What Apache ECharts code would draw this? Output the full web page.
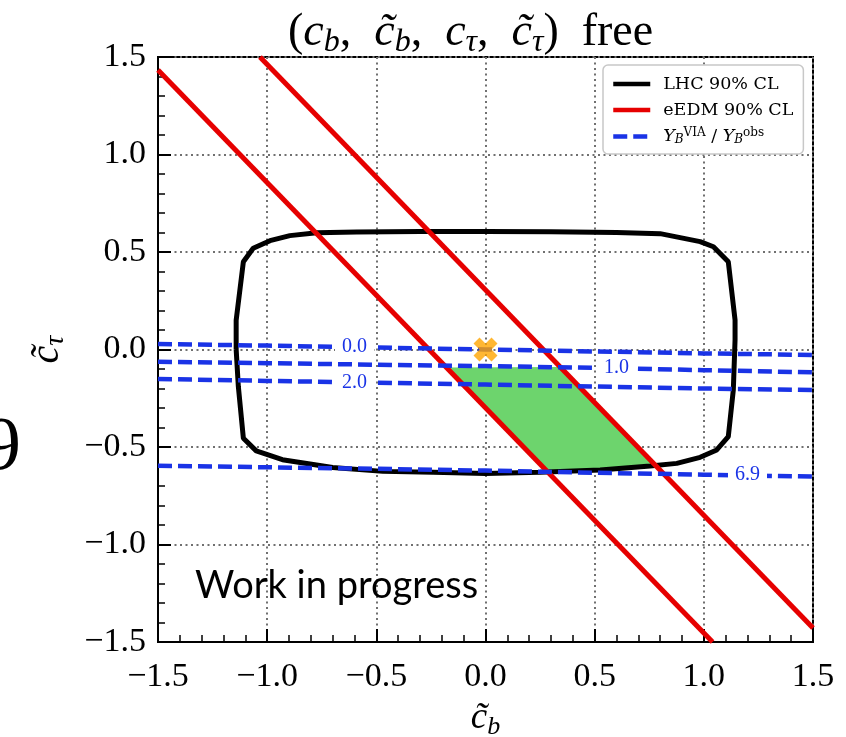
<!DOCTYPE html>
<html>
<head>
<meta charset="utf-8">
<script src="https://cdn.jsdelivr.net/npm/echarts@6/dist/echarts.min.js"></script>
<style>html,body{margin:0;padding:0;background:#fff}#c{width:846px;height:737px}</style>
</head>
<body>
<div id="c"></div>
<script>
// ---------- data ----------
const axisMin = -1.5, axisMax = 1.5, axisStep = 0.5;

// LHC 90% CL contour (closed)
const lhcX = [-1.142,-1.142,-1.109,-1.064,-0.987,-0.896,-0.773,-0.59,-0.3,0,0.3,0.6,0.8,0.983,1.044,1.112,1.143,1.143,1.135,1.112,1.059,0.983,0.876,0.754,0.525,0.25,0,-0.24,-0.47,-0.70,-0.93,-1.05,-1.109,-1.132,-1.142];
const lhcY = [0.0,0.15,0.45,0.519,0.558,0.584,0.599,0.603,0.605,0.605,0.604,0.6,0.594,0.553,0.527,0.45,0.151,0.049,-0.208,-0.447,-0.515,-0.553,-0.584,-0.597,-0.618,-0.63,-0.636,-0.63,-0.625,-0.605,-0.565,-0.52,-0.455,-0.19,0.0];

// eEDM 90% CL boundaries (straight bands)
const edm1X = [-1.5, 1.04];
const edm1Y = [1.433, -1.5];
const edm2X = [-1.033, 1.5];
const edm2Y = [1.5, -1.428];

// Y_B^VIA / Y_B^obs contours
const contourX = [-1.5,-1.0,-0.5,0,0.5,1.0,1.5];
const c00 = [0.028,0.02,0.01,0.0,-0.01,-0.02,-0.028];
const c10 = [-0.063,-0.07,-0.078,-0.085,-0.094,-0.106,-0.117];
const c20 = [-0.151,-0.161,-0.17,-0.18,-0.19,-0.2,-0.208];
const c69 = [-0.596,-0.604,-0.612,-0.621,-0.632,-0.642,-0.652];
const contourLabels = ['0.0','1.0','2.0','6.9'];
const labelX = [-0.6, 0.6, -0.6, 1.2];
const labelY = [0.012, -0.096, -0.172, -0.64];

// allowed region (green)
const greenX = [-0.18, 0.344, 0.78, 0.525, 0.285];
const greenY = [-0.092, -0.09, -0.595, -0.618, -0.629];

// SM point
const smPoint = [[0, 0]];

// ---------- helpers ----------
const zip = (xs, ys) => xs.map((x, i) => [x, ys[i]]);
const fmt = v => (v < 0 ? '\u2212' : '') + Math.abs(v).toFixed(1);
const SERIF = "'Liberation Serif', 'DejaVu Serif', serif";
const LSERIF = "'DejaVu Serif', serif";
const BLUE = '#1a33e6', RED = '#e60000', GREEN = '#6dd46d';

const mathRich = (fs) => ({
  n: {fontFamily: SERIF, fontSize: fs, fontWeight: 'normal', color: '#000'},
  i: {fontFamily: SERIF, fontSize: fs, fontWeight: 'normal', fontStyle: 'italic', color: '#000'},
  s: {fontFamily: SERIF, fontSize: Math.round(fs*0.7), fontWeight: 'normal', fontStyle: 'italic', color: '#000', verticalAlign: 'bottom', padding: [Math.round(fs*0.45),0,0,0]}
});

const blueSeries = (data) => ({
  type: 'line', name: 'YB', data: data, symbol: 'none', z: 4,
  lineStyle: {color: BLUE, width: 4.5, type: [14, 6]}, itemStyle: {color: BLUE}
});

const chart = echarts.init(document.getElementById('c'), null, {renderer: 'canvas'});

const axisCommon = {
  type: 'value', min: axisMin, max: axisMax, interval: axisStep,
  axisLine: {show: true, onZero: false, lineStyle: {color: '#000', width: 2}},
  axisTick: {show: true, inside: true, length: 13, lineStyle: {color: '#000', width: 2}},
  minorTick: {show: true, splitNumber: 5, length: 7, lineStyle: {color: '#000', width: 1.5}},
  splitLine: {show: true, lineStyle: {color: '#707070', width: 2, type: [2, 3.5]}},
  axisLabel: {formatter: fmt, fontFamily: SERIF, fontSize: 34, color: '#000', showMinLabel: true, showMaxLabel: true}
};

const option = {
  animation: false,
  backgroundColor: '#fff',
  grid: {left: 158, top: 57, right: 33, bottom: 95, containLabel: false, outerBoundsMode: 'none', show: true, borderColor: '#000', borderWidth: 2, backgroundColor: 'transparent'},
  title: {
    text: '{n|(}{i|c}{s|b}{n|,  }{i|c\u0303}{s|b}{n|,  }{i|c}{s|\u03c4}{n|,  }{i|c\u0303}{s|\u03c4}{n|)  free}',
    left: 283, top: 1,
    textStyle: {fontWeight: 'normal', rich: mathRich(46)}
  },
  legend: {
    orient: 'vertical', left: 603, top: 65,
    padding: [10, 10, 8, 8], itemGap: 8,
    itemWidth: 37, itemHeight: 18,
    backgroundColor: '#fff', borderColor: '#c8c8c8', borderWidth: 1.5, borderRadius: 5,
    itemStyle: {opacity: 0, borderWidth: 0},
    lineStyle: {width: 4.5},
    data: ['LHC 90% CL', 'eEDM 90% CL', 'YB'],
    formatter: function (name) {
      if (name === 'YB') return '{i|Y}{s|B}{p|VIA}{n| / }{i|Y}{s|B}{p|obs}';
      return '{n|' + name + '}';
    },
    textStyle: {
      padding: [0, 0, 0, 8],
      rich: {
        n: {fontFamily: LSERIF, fontSize: 17.5, color: '#000', lineHeight: 19},
        i: {fontFamily: LSERIF, fontSize: 17.5, fontStyle: 'italic', color: '#000', lineHeight: 19},
        s: {fontFamily: LSERIF, fontSize: 12, fontStyle: 'italic', color: '#000', verticalAlign: 'bottom', lineHeight: 12, padding: [7,0,0,0]},
        p: {fontFamily: LSERIF, fontSize: 12, color: '#000', verticalAlign: 'top', lineHeight: 12, padding: [0,0,7,0]}
      }
    }
  },
  xAxis: Object.assign({}, axisCommon, {
    position: 'bottom',
    name: '{i|c\u0303}{s|b}', nameLocation: 'middle', nameGap: 55,
    nameTextStyle: {rich: mathRich(37)},
    axisLabel: Object.assign({}, axisCommon.axisLabel, {margin: 18})
  }),
  yAxis: Object.assign({}, axisCommon, {
    position: 'left',
    name: '{i|c\u0303}{s|\u03c4}', nameLocation: 'middle', nameGap: 88, nameRotate: 90,
    nameTextStyle: {rich: mathRich(40)},
    axisLabel: Object.assign({}, axisCommon.axisLabel, {margin: 12})
  }),
  graphic: [
    {type: 'text', x: -17, y: 411, z: 10, style: {text: '9', font: "76px 'Liberation Serif'", fill: '#000'}},
    {type: 'text', x: 195, y: 567, z: 10, style: {text: 'Work in progress', font: "38px Lato, 'Open Sans', sans-serif", fill: '#000'}}
  ],
  series: [
    {
      type: 'custom', name: 'allowed', z: 1, clip: true,
      data: zip(greenX, greenY),
      renderItem: function (params, api) {
        if (params.dataIndex !== 0) return null;
        const pts = greenX.map((x, i) => api.coord([x, greenY[i]]));
        return {type: 'polygon', shape: {points: pts}, style: {fill: GREEN}};
      }
    },
    {
      type: 'line', name: 'LHC 90% CL', data: zip(lhcX, lhcY), symbol: 'none', z: 2,
      lineStyle: {color: '#000', width: 5}, itemStyle: {color: '#000'}
    },
    {
      type: 'line', name: 'eEDM 90% CL', data: zip(edm1X, edm1Y), symbol: 'none', z: 3,
      lineStyle: {color: RED, width: 5}, itemStyle: {color: RED}
    },
    {
      type: 'line', name: 'eEDM 90% CL', data: zip(edm2X, edm2Y), symbol: 'none', z: 3,
      lineStyle: {color: RED, width: 5}, itemStyle: {color: RED}
    },
    blueSeries(zip(contourX, c00)),
    blueSeries(zip(contourX, c10)),
    blueSeries(zip(contourX, c20)),
    blueSeries(zip(contourX, c69)),
    {
      type: 'scatter', name: 'labels', z: 5, symbolSize: 0, silent: true,
      data: labelX.map((x, i) => ({value: [x, labelY[i]], label: {formatter: contourLabels[i]}})),
      label: {show: true, position: 'inside', fontFamily: SERIF, fontSize: 20, color: BLUE, textBorderWidth: 0, textBorderColor: 'transparent', opacity: 1, backgroundColor: '#fff', padding: [0, 7, 0, 7]}
    },
    {
      type: 'scatter', name: 'SM', z: 6, data: smPoint,
      symbol: 'path://M0,2.5 L2.5,0 L5,2.5 L7.5,0 L10,2.5 L7.5,5 L10,7.5 L7.5,10 L5,7.5 L2.5,10 L0,7.5 L2.5,5 Z',
      symbolSize: 24, itemStyle: {color: '#ffa500'}
    }
  ]
};
chart.setOption(option);
</script>
</body>
</html>
